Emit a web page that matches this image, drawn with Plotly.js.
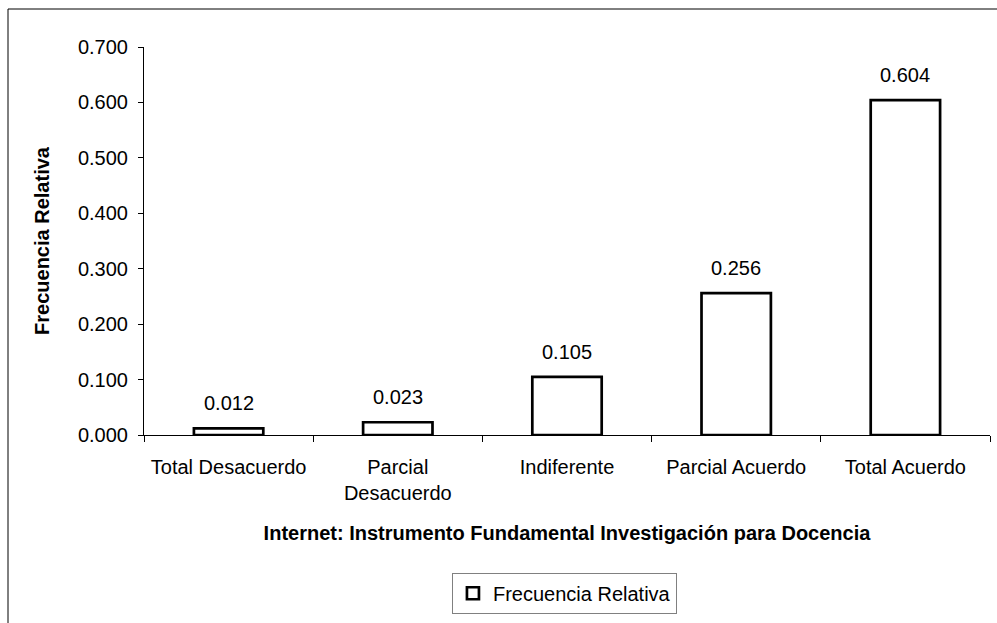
<!DOCTYPE html>
<html>
<head>
<meta charset="utf-8">
<script src="https://cdn.plot.ly/plotly-3.0.1.min.js"></script>
<style>
html,body{margin:0;padding:0;background:#fff;}
#chart{width:997px;height:623px;}
</style>
</head>
<body>
<div id="chart"></div>
<script>
const categories = ["Total Desacuerdo", "Parcial<br>Desacuerdo", "Indiferente", "Parcial Acuerdo", "Total Acuerdo"];
const values = [0.012, 0.023, 0.105, 0.256, 0.604];
const labels = ["0.012", "0.023", "0.105", "0.256", "0.604"];
const seriesName = "Frecuencia Relativa";
const xTitle = "Internet: Instrumento Fundamental Investigación para Docencia";
const yTitle = "Frecuencia Relativa";

const FONT = "Liberation Sans, Arial, sans-serif";

const trace = {
  type: "bar",
  x: categories,
  y: values,
  name: seriesName,
  width: 0.41,
  marker: {color: "#ffffff", line: {color: "#000000", width: 2.7}},
  hoverinfo: "none"
};

const annotations = categories.map((c, i) => ({
  x: c, y: values[i], xref: "x", yref: "y",
  text: labels[i], showarrow: false,
  yanchor: "bottom", yshift: 12,
  font: {family: FONT, size: 20, color: "#000"}
}));

const layout = {
  width: 997, height: 623,
  margin: {l: 144, r: 7, t: 47, b: 188},
  paper_bgcolor: "#fff", plot_bgcolor: "#fff",
  font: {family: FONT, size: 20, color: "#000"},
  showlegend: true,
  legend: {
    x: 0.364, y: -0.355, xanchor: "left", yanchor: "top",
    bordercolor: "#808080", borderwidth: 1,
    font: {family: FONT, size: 20, color: "#000"},
    itemwidth: 30
  },
  xaxis: {
    type: "category",
    range: [-0.5, 4.5],
    showline: true, linecolor: "#000", linewidth: 1,
    ticks: "outside", tickson: "boundaries", ticklen: 6, tickcolor: "#000",
    ticklabelstandoff: 14,
    showgrid: false, zeroline: false,
    tickfont: {family: FONT, size: 20, color: "#000"},
    title: {text: xTitle, standoff: 22, font: {family: FONT, size: 20, color: "#000", weight: "bold"}},
    automargin: false
  },
  yaxis: {
    range: [0, 0.7], dtick: 0.1, tick0: 0,
    tickformat: ".3f",
    showline: true, linecolor: "#000", linewidth: 1,
    ticks: "outside", ticklen: 5, tickcolor: "#000",
    ticklabelstandoff: 6,
    showgrid: false, zeroline: false,
    tickfont: {family: FONT, size: 20, color: "#000"},
    title: {text: yTitle, standoff: 22, font: {family: FONT, size: 20, color: "#000", weight: "bold"}},
    automargin: false
  },
  annotations: annotations,
  shapes: [{
    type: "rect", xref: "paper", yref: "paper",
    x0: (8 - 144) / 846, x1: 1.05,
    y0: -0.6, y1: (435 - 9) / 388,
    line: {color: "#000", width: 1}, fillcolor: "rgba(0,0,0,0)", layer: "below"
  }]
};

Plotly.newPlot("chart", [trace], layout, {staticPlot: true, displayModeBar: false});
</script>
</body>
</html>
